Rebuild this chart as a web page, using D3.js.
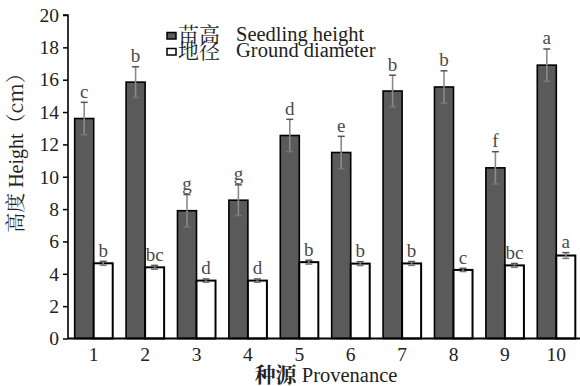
<!DOCTYPE html>
<html><head><meta charset="utf-8">
<script src="https://cdn.jsdelivr.net/npm/d3@7"></script>
<style>
body{margin:0;background:#fff;}
</style></head>
<body><svg id="c" width="580" height="386"></svg>
<script>
const categories = ["1","2","3","4","5","6","7","8","9","10"];
const heightVals = [13.6, 15.85, 7.9, 8.55, 12.55, 11.5, 15.3, 15.55, 10.55, 16.9];
const heightErr  = [1.0, 0.95, 1.0, 0.95, 1.0, 1.0, 0.98, 1.0, 1.0, 1.0];
const heightSig  = ["c","b","g","g","d","e","b","b","f","a"];
const diamVals = [4.65, 4.4, 3.58, 3.58, 4.72, 4.63, 4.64, 4.24, 4.52, 5.13];
const diamErr  = [0.12, 0.12, 0.1, 0.1, 0.12, 0.12, 0.12, 0.1, 0.12, 0.18];
const diamSig  = ["b","bc","d","d","b","b","b","c","bc","a"];
const yTicks = [0,2,4,6,8,10,12,14,16,18,20];
const seriesNames = [["苗高","Seedling height"],["地径","Ground diameter"]];

const SERIF = "'Liberation Serif', 'Times New Roman', Tinos, 'DejaVu Serif', serif";
const CJK = "'Noto Serif CJK SC', 'Noto Sans CJK SC', sans-serif";

const svg = d3.select("#c");
const L = 68, R = 582, T = 15, B = 338.5;
const x = d3.scaleBand().domain(categories).range([L, R]).paddingInner(0.26).paddingOuter(0.13);
const x1 = d3.scaleBand().domain([0,1]).range([0, x.bandwidth()]);
const y = d3.scaleLinear().domain([0,20]).range([B, T]);

const series = [
  {vals: heightVals, err: heightErr, sig: heightSig, fill:"#5a5a5a", sw:1.6},
  {vals: diamVals, err: diamErr, sig: diamSig, fill:"#ffffff", sw:2}
];

series.forEach((s, si) => {
  const g = svg.append("g");
  categories.forEach((c, i) => {
    const bx = x(c) + x1(si), bw = x1.bandwidth();
    g.append("rect").attr("x", bx).attr("y", y(s.vals[i])).attr("width", bw)
      .attr("height", y(0) - y(s.vals[i])).attr("fill", s.fill)
      .attr("stroke", "#000").attr("stroke-width", s.sw);
    const cx = bx + bw/2;
    const top = y(s.vals[i] + s.err[i]), bot = y(s.vals[i] - s.err[i]);
    g.append("line").attr("x1", cx).attr("x2", cx).attr("y1", top).attr("y2", bot)
      .attr("stroke", "#8a8a8a").attr("stroke-width", 1.6);
    [top, bot].forEach((yy, k) => {
      g.append("line").attr("x1", cx-3.5).attr("x2", cx+3.5).attr("y1", yy).attr("y2", yy)
        .attr("stroke", k===0 ? "#555" : "#777").attr("stroke-width", 1.5);
    });
    g.append("text").attr("x", cx).attr("y", top - 4.5).attr("text-anchor","middle")
      .style("font-family", SERIF).style("font-size", "19px").attr("fill", "#4a4a4a").text(s.sig[i]);
  });
});

// axes
const yAxis = d3.axisLeft(y).tickValues(yTicks).tickSize(5).tickPadding(4);
const ga = svg.append("g").attr("transform", `translate(${L},0)`).call(yAxis);
ga.select(".domain").attr("stroke","#000").attr("stroke-width",1.6).attr("d", `M-5,${T}H0V${B}`);
ga.selectAll(".tick line").attr("stroke","#000").attr("stroke-width",1.5);
ga.selectAll(".tick text").style("font-size", "19.5px").attr("fill","#222")
  .style("font-family", SERIF);

const xAxis = d3.axisBottom(x).tickSize(0).tickPadding(9);
const gx = svg.append("g").attr("transform", `translate(0,${B})`).call(xAxis);
gx.select(".domain").attr("stroke","#000").attr("stroke-width",1.8).attr("d", `M${L},0H${R}`);
gx.selectAll(".tick text").style("font-size", "19.5px").attr("fill","#222")
  .style("font-family", SERIF);

// axis titles
const xt = svg.append("text").attr("x", 326).attr("y", 381.5).attr("text-anchor","middle")
  .style("font-size", "20.5px").style("font-family", SERIF).attr("fill","#222");
xt.append("tspan").style("font-family", CJK).style("font-size", "21px").attr("font-weight","bold").text("种源");
xt.append("tspan").text(" Provenance");

const yt = svg.append("text").attr("transform","translate(23,148) rotate(-90)")
  .attr("text-anchor","middle").style("font-size", "20px").style("font-family", SERIF).attr("fill","#222");
yt.append("tspan").style("font-family", CJK).text("高度");
yt.append("tspan").text(" Height");
yt.append("tspan").style("font-family", CJK).text("（cm）");

// legend
seriesNames.forEach((n, i) => {
  const ly = 40.5 + i*16;
  svg.append("rect").attr("x", 167).attr("y", ly - 8).attr("width", 9).attr("height", 6.5)
    .attr("fill", series[i].fill).attr("stroke","#000").attr("stroke-width",1.5);
  svg.append("text").attr("x", 178).attr("y", ly + 1).style("font-size", "21px")
    .style("font-family", CJK).attr("fill","#222").text(n[0]);
  svg.append("text").attr("x", 236).attr("y", ly).style("font-size", "20.5px")
    .style("font-family", SERIF).attr("fill","#222").text(n[1]);
});
</script></body></html>
